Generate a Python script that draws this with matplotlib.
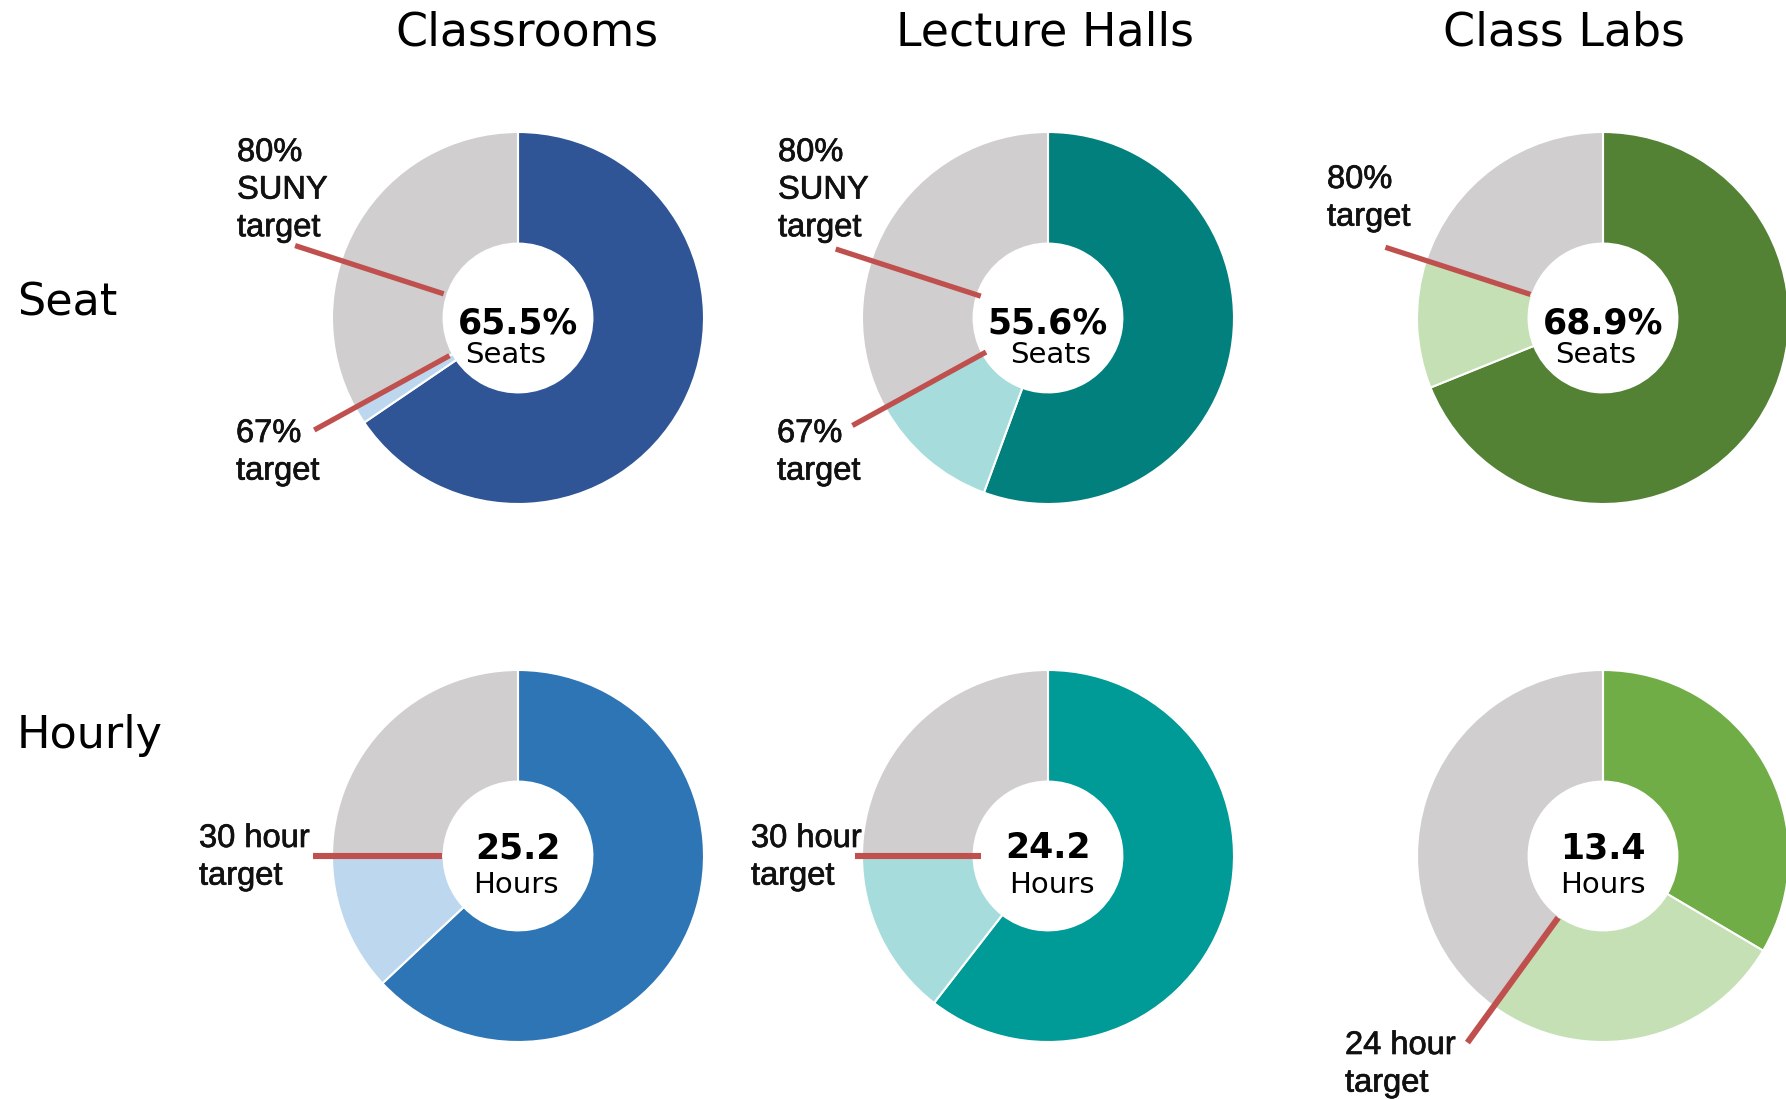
import matplotlib
matplotlib.use("Agg")
import matplotlib.pyplot as plt
import matplotlib.patheffects as pe
import numpy as np

W, H = 1786, 1099

# ---------------- data ----------------
columns = ["Classrooms", "Lecture Halls", "Class Labs"]
rows = ["Seat", "Hourly"]

seat_util = [65.5, 55.6, 68.9]          # % of seats used
seat_target = [67, 67, 80]              # target (%) -> end of light segment
seat_scale = 100

hour_util = [25.2, 24.2, 13.4]          # weekly room hours
hour_target = [30, 30, 24]              # hour target -> end of light segment
hour_scale = 40

seat_marker_val = [[80, 67], [80, 67], [80]]
seat_marker_text = [["80%\nSUNY\ntarget", "67%\ntarget"],
                    ["80%\nSUNY\ntarget", "67%\ntarget"],
                    ["80%\ntarget"]]
hour_marker_val = [[30], [30], [24]]
hour_marker_text = [["30 hour\ntarget"], ["30 hour\ntarget"], ["24 hour\ntarget"]]

seat_unit = "Seats"
hour_unit = "Hours"

# ---------------- style ----------------
dark = [["#2F5597", "#02807E", "#548235"],
        ["#2E75B6", "#009A97", "#70AD47"]]
light = [["#BDD7EE", "#A6DCDC", "#C5E0B4"],
         ["#BDD7EE", "#A6DCDC", "#C5E0B4"]]
gray = "#D0CECE"
red = "#C0504D"

col_x = [518, 1048, 1603]
row_y = [318, 856]
R = 186
hole = 0.40

title_x = [527, 1045, 1564]
title_base = 46
row_label_base = [315, 748]

# marker lines: (inner, outer) radius fractions per chart
seat_line_r = [[(0.42, 1.26), (0.42, 1.25)], [(0.38, 1.20), (0.38, 1.20)], [(0.41, 1.23)]]
hour_line_r = [[(0.41, 1.10)], [(0.36, 1.04)], [(0.41, 1.24)]]
line_w = [3.8, 4.4]
# label left x and first-line baseline y (figure pixels, top origin)
seat_label_pos = [[(237, 161), (236, 442)], [(778, 161), (777, 442)], [(1327, 188)]]
hour_label_pos = [[(199, 847)], [(751, 847)], [(1345, 1054)]]
label_pitch = 37.6

num_dy = [2, -11]
unit_dy = [34, 26]
unit_dx = [[-12, 3, -7], [-2, 4, 0]]

fig = plt.figure(figsize=(W / 100, H / 100), dpi=100)
ax = fig.add_axes([0, 0, 1, 1])

semibold = [pe.withStroke(linewidth=0.5, foreground="#111111")]


def Y(y):
    return H - y


def draw_marker(cx, cy, val, scale, rin, rout, text, pos, lw):
    ang = np.deg2rad(90 - 360.0 * val / scale)
    x0, y0 = cx + rin * R * np.cos(ang), Y(cy) + rin * R * np.sin(ang)
    x1, y1 = cx + rout * R * np.cos(ang), Y(cy) + rout * R * np.sin(ang)
    ax.plot([x0, x1], [y0, y1], color=red, lw=lw, solid_capstyle="butt", zorder=5)
    lx, ly = pos
    for i, line in enumerate(text.split("\n")):
        ax.text(lx, Y(ly + i * label_pitch), line, ha="left", va="baseline",
                fontsize=23.5, family="Liberation Sans", color="#111111",
                path_effects=semibold, zorder=6)


for ri in range(2):
    for ci in range(3):
        cx, cy = col_x[ci], row_y[ri]
        if ri == 0:
            u, t, s = seat_util[ci], seat_target[ci], seat_scale
            num = f"{u}%"
            unit = seat_unit
        else:
            u, t, s = hour_util[ci], hour_target[ci], hour_scale
            num = f"{u}"
            unit = hour_unit
        vals = [u, t - u, s - t]
        ax.pie(vals, colors=[dark[ri][ci], light[ri][ci], gray], radius=R,
               center=(cx, Y(cy)), startangle=90, counterclock=False,
               wedgeprops=dict(width=R * (1 - hole), edgecolor="white", linewidth=1.5))
        if ri == 0:
            for k, v in enumerate(seat_marker_val[ci]):
                draw_marker(cx, cy, v, s, *seat_line_r[ci][k], seat_marker_text[ci][k],
                            seat_label_pos[ci][k], line_w[ri])
        else:
            for k, v in enumerate(hour_marker_val[ci]):
                draw_marker(cx, cy, v, s, *hour_line_r[ci][k], hour_marker_text[ci][k],
                            hour_label_pos[ci][k], line_w[ri])
        ax.text(cx, Y(cy + num_dy[ri]), num, ha="center", va="center_baseline",
                fontsize=25, fontweight="bold", family="DejaVu Sans", zorder=7)
        ax.text(cx + unit_dx[ri][ci], Y(cy + unit_dy[ri]), unit, ha="center",
                va="center_baseline", fontsize=21, family="DejaVu Sans", zorder=7)

for ci, name in enumerate(columns):
    ax.text(title_x[ci], Y(title_base), name, ha="center", va="baseline",
            fontsize=33, family="DejaVu Sans")
for ri, name in enumerate(rows):
    ax.text(17, Y(row_label_base[ri]), name, ha="left", va="baseline",
            fontsize=32, family="DejaVu Sans")

ax.set_xlim(0, W)
ax.set_ylim(0, H)
ax.set_aspect("auto")
ax.axis("off")
fig.savefig("out.png", dpi=100)
